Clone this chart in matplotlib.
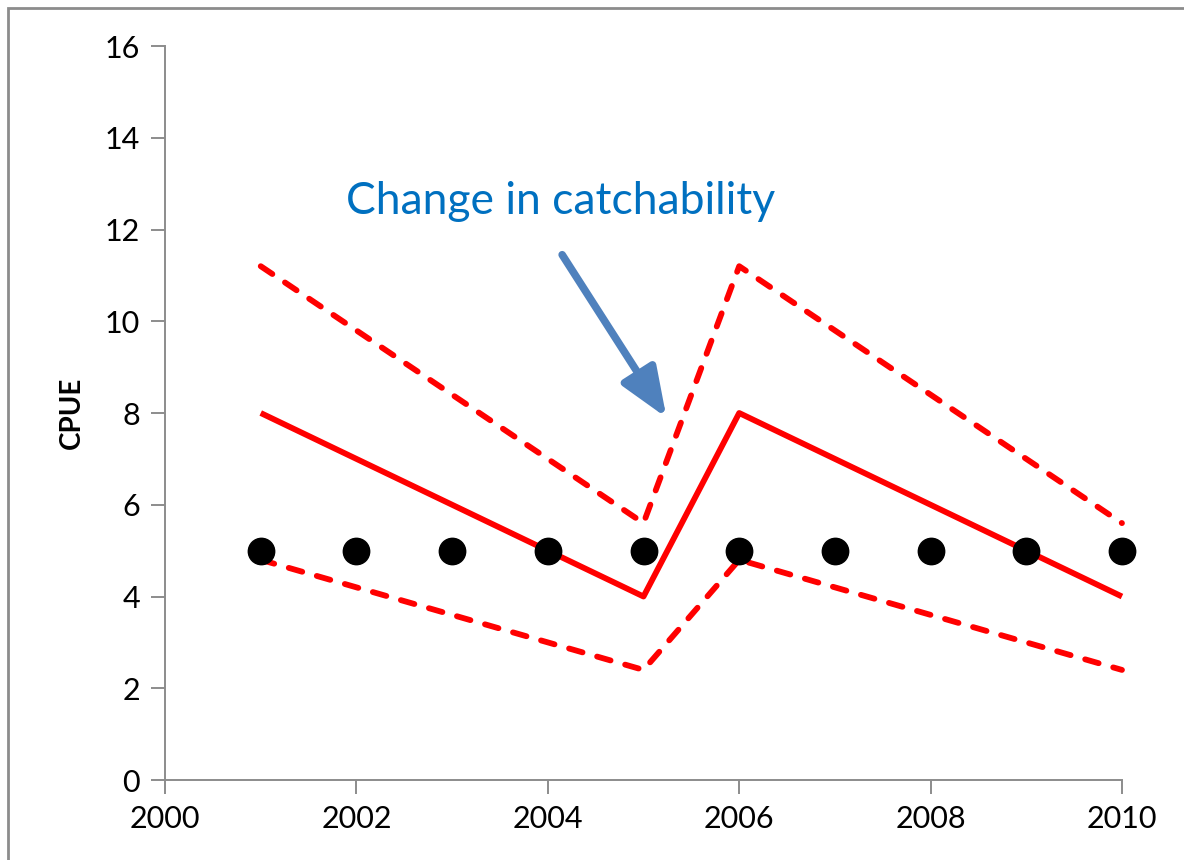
import matplotlib.pyplot as plt
from matplotlib.patches import Rectangle

# yearly CPUE series
years = [2001, 2002, 2003, 2004, 2005, 2006, 2007, 2008, 2009, 2010]
observed = [5, 5, 5, 5, 5, 5, 5, 5, 5, 5]
predicted = [8, 7, 6, 5, 4, 8, 7, 6, 5, 4]
upper = [11.2, 9.8, 8.4, 7.0, 5.6, 11.2, 9.8, 8.4, 7.0, 5.6]
lower = [4.8, 4.2, 3.6, 3.0, 2.4, 4.8, 4.2, 3.6, 3.0, 2.4]

xticks = [2000, 2002, 2004, 2006, 2008, 2010]
yticks = [0, 2, 4, 6, 8, 10, 12, 14, 16]

plt.rcParams['font.family'] = ['Lato', 'DejaVu Sans']

fig = plt.figure(figsize=(11.84, 8.6), dpi=100)
ax = fig.add_axes([0.1394, 0.093, 0.8082, 0.8535])

red = '#FF0000'
ax.plot(years, predicted, color=red, lw=4.2, solid_capstyle='butt',
        zorder=2, clip_on=False)
for band in (upper, lower):
    ax.plot(years, band, color=red, lw=4.2, dashes=(2.4, 2.6),
            dash_capstyle='round', zorder=2, clip_on=False)
ax.plot(years, observed, 'o', color='black', ms=19, zorder=3, clip_on=False)

ax.set_xlim(2000, 2010)
ax.set_ylim(0, 16)
ax.set_xticks(xticks)
ax.set_yticks(yticks)

grey = '#8C8C8C'
for side in ('top', 'right'):
    ax.spines[side].set_visible(False)
for side in ('left', 'bottom'):
    ax.spines[side].set_color(grey)
    ax.spines[side].set_linewidth(1.4)
ax.tick_params(direction='out', length=10, width=1.4, color=grey,
               labelsize=22, pad=8)

ax.set_ylabel('CPUE', fontsize=20, fontweight='bold', labelpad=14)

ax.annotate('', xy=(2005.24, 7.9), xytext=(2004.15, 11.45),
            arrowprops=dict(arrowstyle='-|>,head_length=1.5,head_width=0.6',
                            mutation_scale=20, color='#4F81BD', lw=5.5,
                            shrinkA=0, shrinkB=0))
ax.text(2004.13, 12.6, 'Change in catchability', color='#0070C0',
        fontsize=32, ha='center', va='center')

# outer chart frame
fig.patches.append(Rectangle((8 / 1184, -0.01), 1.2, 1 - 8 / 860 + 0.01,
                             transform=fig.transFigure, fill=False,
                             edgecolor='#8C8C8C', lw=2))

fig.savefig('out.png', dpi=100)
